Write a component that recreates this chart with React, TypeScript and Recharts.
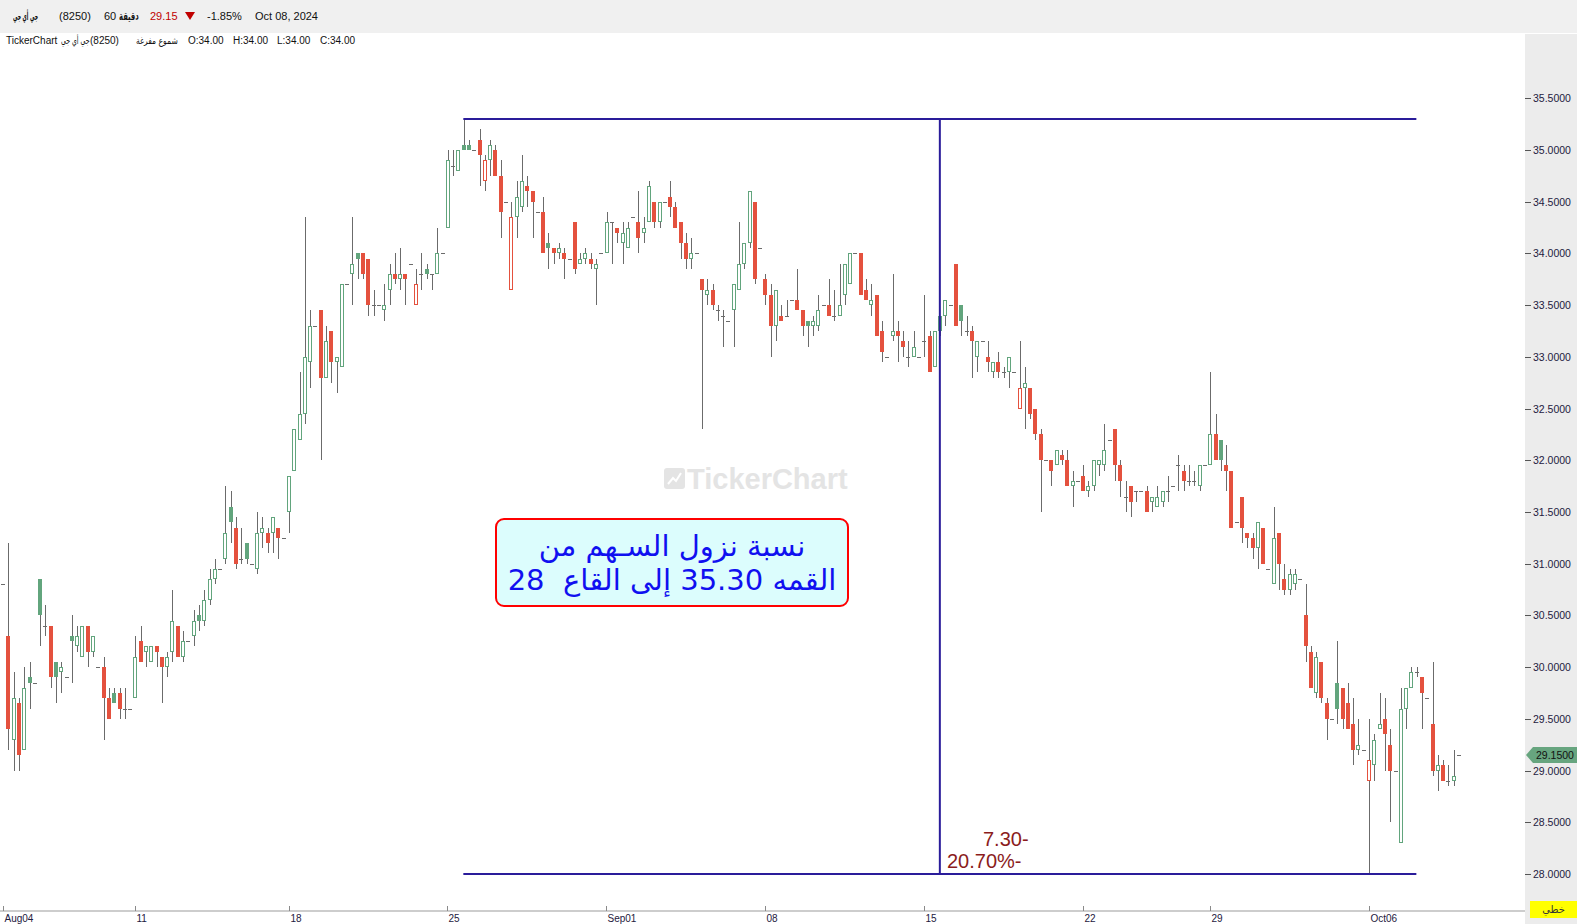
import React from 'react';
import { ComposedChart, Bar, XAxis, YAxis, ReferenceLine } from 'recharts';

// 60-minute candles, 8250 (جي أي جي), Aug 04 -> Oct 08 2024
const opens = [
  30.80, 30.30, 29.30, 29.65, 29.20, 29.90, 29.85, 30.85, 30.40, 30.40, 30.05, 29.95,
  29.90, 30.30, 30.20, 30.10, 30.40, 30.15, 30.00, 30.00, 29.70, 29.75, 29.75, 29.60,
  29.60, 29.70, 30.25, 30.15, 30.05, 30.20, 30.10, 30.00, 30.15, 30.40, 30.10, 30.25,
  30.30, 30.50, 30.45, 30.65, 30.85, 30.95, 31.05, 31.55, 31.35, 31.05, 31.20, 31.00,
  30.95, 31.30, 31.30, 31.30, 31.35, 31.25, 31.50, 31.90, 32.20, 32.45, 32.95, 33.30,
  33.45, 32.80, 33.25, 32.95, 32.90, 33.70, 33.80, 34.00, 34.00, 33.95, 33.50, 33.50,
  33.45, 33.65, 33.80, 33.75, 33.80, 33.90, 33.50, 33.80, 33.85, 33.80, 33.80, 34.00,
  34.25, 34.85, 34.80, 35.05, 35.05, 35.00, 35.10, 34.70, 34.90, 35.00, 34.75, 34.50,
  33.65, 34.35, 34.45, 34.65, 34.60, 34.40, 34.40, 34.10, 34.05, 34.00, 34.00, 33.95,
  34.30, 33.90, 33.95, 33.95, 33.85, 34.00, 34.00, 34.30, 34.25, 34.10, 34.05, 34.35,
  34.30, 34.20, 34.30, 34.50, 34.30, 34.50, 34.55, 34.45, 34.30, 34.10, 33.95, 34.00,
  33.75, 33.60, 33.65, 33.45, 33.40, 33.35, 33.45, 33.65, 33.90, 34.10, 34.50, 34.05,
  33.75, 33.60, 33.30, 33.40, 33.40, 33.55, 33.55, 33.45, 33.35, 33.30, 33.30, 33.50,
  33.50, 33.40, 33.40, 33.60, 33.70, 34.00, 34.00, 33.65, 33.50, 33.60, 33.25, 33.00,
  33.20, 33.25, 33.15, 33.00, 33.00, 33.00, 33.15, 33.20, 32.90, 33.40, 33.40, 33.50,
  33.90, 33.50, 33.25, 33.25, 33.00, 33.15, 33.00, 32.85, 32.95, 32.85, 32.85, 32.85,
  32.50, 32.70, 32.70, 32.50, 32.25, 32.00, 32.00, 31.95, 32.05, 32.00, 31.75, 31.80,
  31.85, 31.70, 31.75, 31.95, 31.95, 32.20, 32.30, 31.95, 31.65, 31.75, 31.70, 31.70,
  31.70, 31.60, 31.55, 31.60, 31.70, 31.75, 31.95, 31.90, 31.80, 31.80, 31.75, 31.95,
  31.95, 32.25, 32.20, 31.95, 31.90, 31.40, 31.65, 31.30, 31.25, 31.15, 31.35, 30.95,
  30.80, 31.30, 30.85, 30.75, 30.80, 30.85, 30.50, 30.15, 29.75, 30.05, 29.65, 29.50,
  29.85, 29.80, 29.65, 29.45, 29.20, 29.20, 28.90, 29.05, 29.40, 29.50, 29.25, 29.00,
  28.30, 29.60, 29.80, 29.95, 29.90, 29.70, 29.45, 29.00, 29.05, 28.90, 28.90, 29.15,
];
const highs = [
  30.80, 31.20, 29.95, 29.70, 30.00, 30.05, 29.85, 30.85, 30.60, 30.40, 30.05, 30.05,
  29.90, 30.50, 30.40, 30.40, 30.40, 30.30, 30.00, 30.10, 29.80, 29.80, 29.80, 29.80,
  29.60, 30.30, 30.40, 30.20, 30.20, 30.20, 30.10, 30.15, 30.75, 30.40, 30.35, 30.25,
  30.55, 30.60, 30.75, 30.95, 31.05, 30.95, 31.75, 31.70, 31.45, 31.35, 31.20, 31.00,
  31.50, 31.45, 31.35, 31.45, 31.35, 31.25, 31.85, 32.30, 32.85, 34.35, 33.45, 33.30,
  33.45, 33.30, 33.25, 33.00, 33.70, 33.70, 34.35, 34.00, 34.00, 33.95, 33.65, 33.50,
  33.70, 33.90, 34.00, 34.05, 33.80, 33.90, 33.85, 34.00, 33.90, 33.80, 34.25, 34.00,
  35.00, 35.00, 35.00, 35.30, 35.10, 35.00, 35.20, 34.95, 35.10, 35.05, 34.90, 34.50,
  34.50, 34.70, 34.95, 34.75, 34.60, 34.40, 34.55, 34.20, 34.05, 34.10, 34.05, 33.95,
  34.30, 34.00, 34.05, 34.00, 33.95, 34.00, 34.40, 34.30, 34.25, 34.30, 34.30, 34.35,
  34.60, 34.35, 34.70, 34.50, 34.50, 34.50, 34.70, 34.50, 34.30, 34.20, 34.15, 34.00,
  33.75, 33.75, 33.70, 33.50, 33.45, 33.35, 33.70, 34.30, 34.10, 34.60, 34.50, 34.05,
  33.80, 33.70, 33.65, 33.50, 33.55, 33.55, 33.85, 33.45, 33.35, 33.40, 33.60, 33.50,
  33.75, 33.65, 33.90, 33.90, 34.00, 34.00, 34.00, 33.75, 33.70, 33.60, 33.35, 33.00,
  33.80, 33.35, 33.25, 33.15, 33.25, 33.00, 33.60, 33.25, 33.25, 33.40, 33.55, 33.50,
  33.90, 33.50, 33.40, 33.30, 33.15, 33.15, 33.15, 32.95, 33.05, 32.90, 33.00, 32.85,
  33.15, 32.90, 32.70, 32.50, 32.30, 32.00, 32.00, 32.10, 32.10, 32.10, 31.90, 31.80,
  31.95, 31.80, 32.00, 32.00, 32.35, 32.20, 32.30, 32.00, 31.80, 31.75, 31.70, 31.70,
  31.75, 31.65, 31.75, 31.70, 31.85, 31.75, 32.05, 31.95, 31.95, 31.90, 31.95, 31.95,
  32.85, 32.45, 32.20, 32.15, 31.90, 31.40, 31.65, 31.30, 31.30, 31.40, 31.35, 30.95,
  31.55, 31.30, 31.00, 30.95, 30.95, 30.85, 30.80, 30.20, 30.15, 30.05, 29.70, 29.50,
  30.25, 29.80, 29.85, 29.70, 29.50, 29.20, 29.50, 29.35, 29.75, 29.70, 29.40, 29.00,
  29.80, 29.80, 30.00, 30.00, 29.90, 29.70, 30.05, 29.15, 29.10, 29.05, 29.20, 29.15,
];
const lows = [
  30.80, 29.20, 29.00, 29.00, 29.20, 29.60, 29.85, 30.20, 30.30, 29.80, 29.65, 29.75,
  29.90, 29.85, 30.15, 30.10, 30.00, 30.10, 30.00, 29.30, 29.50, 29.65, 29.50, 29.50,
  29.60, 29.70, 30.05, 30.00, 30.05, 30.00, 29.65, 29.90, 30.05, 30.10, 30.05, 30.25,
  30.20, 30.35, 30.40, 30.60, 30.80, 30.95, 31.00, 31.20, 30.95, 31.00, 31.00, 31.00,
  30.90, 31.15, 31.10, 31.10, 31.05, 31.25, 31.30, 31.90, 32.20, 32.35, 32.70, 33.30,
  32.00, 32.80, 32.75, 32.65, 32.90, 33.70, 33.50, 33.75, 33.75, 33.40, 33.40, 33.50,
  33.35, 33.50, 33.70, 33.65, 33.50, 33.90, 33.50, 33.65, 33.75, 33.65, 33.80, 34.00,
  34.25, 34.75, 34.80, 35.00, 35.00, 35.00, 34.65, 34.60, 34.75, 34.75, 34.15, 34.50,
  33.65, 34.15, 34.40, 34.45, 34.15, 34.40, 34.00, 33.85, 33.90, 33.95, 33.75, 33.95,
  33.80, 33.90, 33.90, 33.85, 33.50, 34.00, 34.00, 33.90, 34.10, 33.90, 34.05, 34.35,
  34.00, 34.10, 34.30, 34.25, 34.25, 34.50, 34.35, 34.25, 33.95, 33.85, 33.85, 34.00,
  32.30, 33.50, 33.45, 33.35, 33.10, 33.35, 33.10, 33.65, 33.85, 34.05, 33.70, 34.05,
  33.50, 33.00, 33.15, 33.35, 33.40, 33.55, 33.45, 33.20, 33.10, 33.20, 33.25, 33.50,
  33.40, 33.35, 33.40, 33.50, 33.70, 34.00, 33.60, 33.55, 33.40, 33.20, 32.95, 33.00,
  33.15, 32.95, 33.00, 32.90, 33.00, 33.00, 33.00, 32.85, 32.90, 33.20, 33.30, 33.50,
  33.30, 33.20, 33.20, 32.80, 32.85, 33.15, 32.85, 32.80, 32.80, 32.80, 32.70, 32.85,
  32.50, 32.30, 32.40, 32.20, 31.50, 32.00, 31.75, 31.95, 31.95, 31.75, 31.55, 31.80,
  31.70, 31.65, 31.70, 31.85, 31.90, 32.20, 31.80, 31.65, 31.50, 31.45, 31.60, 31.70,
  31.50, 31.50, 31.55, 31.55, 31.60, 31.75, 31.70, 31.70, 31.75, 31.75, 31.70, 31.95,
  31.95, 32.00, 31.90, 31.70, 31.35, 31.40, 31.20, 31.15, 31.05, 30.95, 31.00, 30.95,
  30.80, 30.75, 30.70, 30.70, 30.75, 30.85, 30.05, 29.80, 29.70, 29.65, 29.30, 29.50,
  29.45, 29.40, 29.40, 29.05, 29.15, 29.20, 28.00, 28.90, 29.40, 29.00, 28.50, 29.00,
  28.30, 29.40, 29.80, 29.90, 29.40, 29.70, 28.95, 28.80, 28.90, 28.85, 28.85, 29.15,
];
const closes = [
  30.80, 29.40, 29.70, 29.15, 29.80, 29.85, 29.85, 30.50, 30.40, 29.90, 29.90, 30.00,
  29.90, 30.25, 30.30, 30.40, 30.15, 30.30, 30.00, 29.70, 29.50, 29.65, 29.60, 29.60,
  29.60, 30.10, 30.05, 30.20, 30.20, 30.15, 30.00, 30.10, 30.45, 30.10, 30.25, 30.25,
  30.45, 30.45, 30.65, 30.85, 30.95, 30.95, 31.30, 31.40, 31.00, 31.05, 31.05, 31.00,
  31.30, 31.35, 31.20, 31.45, 31.25, 31.25, 31.85, 32.30, 32.45, 33.00, 33.30, 33.30,
  32.80, 33.15, 32.95, 33.00, 33.70, 33.70, 33.90, 33.95, 33.80, 33.50, 33.50, 33.50,
  33.50, 33.80, 33.75, 33.80, 33.75, 33.90, 33.70, 33.80, 33.80, 33.80, 34.00, 34.00,
  34.90, 34.85, 35.00, 35.00, 35.00, 35.00, 34.95, 34.90, 35.05, 34.75, 34.40, 34.50,
  34.35, 34.55, 34.70, 34.60, 34.50, 34.40, 34.00, 34.05, 34.00, 34.05, 33.95, 33.95,
  33.85, 33.95, 34.00, 33.90, 33.90, 34.00, 34.30, 34.30, 34.20, 34.20, 34.25, 34.35,
  34.15, 34.25, 34.65, 34.30, 34.50, 34.50, 34.45, 34.25, 34.10, 33.95, 34.00, 34.00,
  33.65, 33.65, 33.50, 33.45, 33.40, 33.35, 33.70, 33.90, 34.10, 34.60, 33.75, 34.05,
  33.60, 33.30, 33.65, 33.35, 33.40, 33.55, 33.45, 33.30, 33.30, 33.35, 33.45, 33.50,
  33.40, 33.40, 33.50, 33.90, 34.00, 34.00, 33.60, 33.55, 33.55, 33.20, 33.05, 33.00,
  33.25, 33.20, 33.10, 33.00, 33.10, 33.00, 33.15, 32.85, 33.25, 33.25, 33.55, 33.50,
  33.30, 33.35, 33.25, 33.15, 33.15, 33.15, 32.95, 32.95, 32.85, 32.85, 33.00, 32.85,
  32.70, 32.75, 32.45, 32.25, 32.00, 32.00, 31.90, 32.10, 32.00, 31.75, 31.80, 31.80,
  31.70, 31.75, 32.00, 32.00, 32.10, 32.20, 31.95, 31.80, 31.65, 31.60, 31.70, 31.70,
  31.50, 31.65, 31.65, 31.70, 31.70, 31.75, 31.95, 31.80, 31.80, 31.80, 31.95, 31.95,
  32.25, 32.00, 32.00, 31.90, 31.35, 31.40, 31.35, 31.25, 31.15, 31.40, 31.00, 30.95,
  31.25, 31.00, 30.75, 30.90, 30.90, 30.85, 30.20, 29.80, 30.10, 29.70, 29.50, 29.50,
  29.60, 29.50, 29.40, 29.20, 29.25, 29.20, 29.10, 29.30, 29.45, 29.35, 29.00, 29.00,
  29.60, 29.80, 29.95, 29.95, 29.75, 29.70, 29.00, 29.05, 28.90, 28.90, 28.95, 29.15,
];

const weekTicks = [0, 25, 54, 84, 114, 144, 174, 204, 228, 258];
const weekLabels = ['Aug04', '11', '18', '25', 'Sep01', '08', '15', '22', '29', 'Oct06'];
const priceTicks = [28, 28.5, 29, 29.5, 30, 30.5, 31, 31.5, 32, 32.5, 33, 33.5, 34, 34.5, 35, 35.5];

// drawing tool: drop from the top to the bottom
const peakPrice = 35.3;
const bottomPrice = 28.0;
const lastPrice = 29.15;
const peakIndex = 87;
const splitIndex = 177;
const lineEndIndex = 267;

const rows = opens.map((open, i) => ({
  i,
  open,
  high: highs[i],
  low: lows[i],
  close: closes[i],
  prevClose: i > 0 ? closes[i - 1] : open,
}));

const RED = '#e4513e';
const GREEN = '#62a57d';
const WICK = '#6b6b6b';
const DRAW = '#2a1c9a';
const AXIS_TEXT = '#1e2040';
const FONT = '"Liberation Sans", Arial, "DejaVu Sans", sans-serif';
const ARABIC = '"DejaVu Sans", sans-serif';

const Candle = (props: any) => {
  const { x, y, width, height, payload } = props;
  if (x == null || y == null || !payload) return null;
  const { open, high, low, close, prevClose } = payload;
  const left = Math.round(x + width / 2 - 2);
  const mid = left + 2.5;
  const k = high > low ? height / (high - low) : 0;
  const toY = (v: number) => y + (high - v) * k;
  const wick =
    height > 0 ? (
      <line x1={mid} x2={mid} y1={Math.round(y)} y2={Math.round(y + height)} stroke={WICK} strokeWidth={1} />
    ) : null;

  if (open === close) {
    const yy = Math.round(toY(open)) + 0.5;
    return (
      <g>
        {wick}
        <line x1={left} x2={left + 4} y1={yy} y2={yy} stroke={WICK} strokeWidth={1} />
      </g>
    );
  }

  const color = close >= prevClose ? GREEN : RED;
  const bTop = Math.round(toY(Math.max(open, close)));
  const bBot = Math.round(toY(Math.min(open, close)));
  const bh = Math.max(bBot - bTop, 1);
  const body =
    close > open ? (
      <rect x={left + 0.5} y={bTop + 0.5} width={3} height={Math.max(bh - 1, 0)} fill="#fff" stroke={color} strokeWidth={1} />
    ) : (
      <rect x={left} y={bTop} width={4} height={bh} fill={color} />
    );
  return (
    <g>
      {wick}
      {body}
    </g>
  );
};

const WeekTick = (props: any) => {
  const { x, y, payload } = props;
  const idx = weekTicks.indexOf(payload.value);
  const px = Math.round(x) + 0.5;
  return (
    <g>
      <line x1={px} x2={px} y1={y - 5} y2={y} stroke="#8a8a8a" />
      <text x={px + 1} y={y + 11} fontSize={10} fontFamily={FONT} fill={AXIS_TEXT}>
        {weekLabels[idx]}
      </text>
    </g>
  );
};

const PriceTick = (props: any) => {
  const { x, y, payload } = props;
  const py = Math.round(y) + 0.5;
  return (
    <g>
      <line x1={x} x2={x + 6} y1={py} y2={py} stroke="#555" />
      <text x={x + 8} y={py + 3.5} fontSize={10.5} fontFamily={FONT} fill={AXIS_TEXT}>
        {Number(payload.value).toFixed(4)}
      </text>
    </g>
  );
};

const LastPriceTag = (props: any) => {
  const { viewBox } = props;
  if (!viewBox) return null;
  const right = viewBox.x + viewBox.width;
  const yy = Math.round(viewBox.y);
  const pts = `${right + 1},${yy} ${right + 8},${yy - 8} ${right + 52},${yy - 8} ${right + 52},${yy + 8} ${right + 8},${yy + 8}`;
  return (
    <g>
      <polygon points={pts} fill="#67a57f" />
      <text x={right + 11} y={yy + 4} fontSize={10.5} fontFamily={FONT} fill="#111">
        {lastPrice.toFixed(4)}
      </text>
    </g>
  );
};

const Txt = ({ x, y, size, color = '#111', bold = false, family = FONT, sx = 1, children }: any) => (
  <div
    style={{
      position: 'absolute',
      left: x,
      top: y - size / 2,
      fontSize: size,
      lineHeight: `${size}px`,
      color,
      fontWeight: bold ? 700 : 400,
      fontFamily: family,
      whiteSpace: 'pre',
      transform: sx !== 1 ? `scaleX(${sx})` : undefined,
      transformOrigin: 'left center',
    }}
  >
    {children}
  </div>
);

export default function App() {
  return (
    <div style={{ position: 'absolute', left: 0, top: 0, width: 1577, height: 924, background: '#fff', overflow: 'hidden', fontFamily: FONT }}>
      {/* header strip */}
      <div style={{ position: 'absolute', left: 0, top: 0, width: 1577, height: 33, background: '#f0f0f0' }} />
      {/* price axis panel */}
      <div style={{ position: 'absolute', left: 1525, top: 34, width: 52, height: 890, background: '#ececec' }} />

      {/* watermark */}
      <svg style={{ position: 'absolute', left: 664, top: 468 }} width={22} height={22}>
        <rect x={0} y={0} width={21} height={21} rx={3} fill="#e4e4e4" />
        <polyline points="4,16 9,10 12,13 17,5" fill="none" stroke="#fff" strokeWidth={2} />
      </svg>
      <Txt x={687} y={479} size={29} bold color="#e4e4e4">TickerChart</Txt>

      <div style={{ position: 'absolute', left: 0, top: 0 }}>
        <ComposedChart width={1577} height={924} data={rows} margin={{ top: 48, right: 0, bottom: 0, left: 0 }}>
          <XAxis
            dataKey="i"
            type="number"
            domain={[-0.51, 287.52]}
            allowDataOverflow
            ticks={weekTicks}
            interval={0}
            height={13}
            tickLine={false}
            tickSize={0}
            tickMargin={0}
            axisLine={{ stroke: '#9b9b9b' }}
            tick={<WeekTick />}
          />
          <YAxis
            orientation="right"
            type="number"
            domain={[27.6422, 35.9867]}
            allowDataOverflow
            ticks={priceTicks}
            interval={0}
            width={52}
            axisLine={false}
            tickLine={false}
            tickSize={0}
            tickMargin={0}
            tick={<PriceTick />}
          />
          <Bar
            dataKey={(d: any) => [d.low, d.high]}
            barSize={4}
            shape={(p: any) => <Candle {...p} />}
            isAnimationActive={false}
          />
          <ReferenceLine
            segment={[{ x: peakIndex, y: peakPrice }, { x: lineEndIndex, y: peakPrice }]}
            stroke={DRAW}
            strokeWidth={2}
            ifOverflow="visible"
          />
          <ReferenceLine
            segment={[{ x: peakIndex, y: bottomPrice }, { x: lineEndIndex, y: bottomPrice }]}
            stroke={DRAW}
            strokeWidth={2}
            ifOverflow="visible"
          />
          <ReferenceLine
            segment={[{ x: splitIndex, y: peakPrice }, { x: splitIndex, y: bottomPrice }]}
            stroke={DRAW}
            strokeWidth={2}
            ifOverflow="visible"
          />
          <ReferenceLine y={lastPrice} stroke="none" ifOverflow="visible" label={<LastPriceTag />} />
        </ComposedChart>
      </div>

      {/* header line 1 */}
      <Txt x={13} y={16} size={11} bold family={ARABIC} sx={0.42}>جي أي جي</Txt>
      <Txt x={59} y={16} size={11}>(8250)</Txt>
      <Txt x={104} y={16} size={11}>60</Txt>
      <Txt x={119} y={16} size={11} bold family={ARABIC} sx={0.62}>دقيقة</Txt>
      <Txt x={150} y={16} size={11} color="#c00000">29.15</Txt>
      <svg style={{ position: 'absolute', left: 185, top: 12 }} width={11} height={9}>
        <polygon points="0,0 10,0 5,8" fill="#c00000" />
      </svg>
      <Txt x={207} y={16} size={11}>-1.85%</Txt>
      <Txt x={255} y={16} size={11}>Oct 08, 2024</Txt>

      {/* header line 2 */}
      <Txt x={6} y={41} size={10}>TickerChart</Txt>
      <Txt x={61} y={41} size={10} family={ARABIC} sx={0.62}>جي أي جي</Txt>
      <Txt x={90} y={41} size={10}>(8250)</Txt>
      <Txt x={136} y={41} size={10} family={ARABIC} sx={0.76}>شموع مفرغة</Txt>
      <Txt x={188} y={41} size={10}>O:34.00</Txt>
      <Txt x={233} y={41} size={10}>H:34.00</Txt>
      <Txt x={277} y={41} size={10}>L:34.00</Txt>
      <Txt x={320} y={41} size={10}>C:34.00</Txt>

      {/* annotation box */}
      <div
        style={{
          position: 'absolute',
          left: 495,
          top: 518,
          width: 354,
          height: 89,
          boxSizing: 'border-box',
          border: '2px solid #ff0000',
          borderRadius: 9,
          background: '#dcfdfd',
          display: 'flex',
          flexDirection: 'column',
          justifyContent: 'center',
          alignItems: 'center',
          color: '#1010f0',
          fontFamily: ARABIC,
          fontSize: 29,
          lineHeight: '34px',
          direction: 'rtl',
          whiteSpace: 'pre',
        }}
      >
        <div>نسبة نزول السـهم من</div>
        <div>القمه 35.30 إلى القاع  28</div>
      </div>

      {/* drop measurement */}
      <Txt x={983} y={839} size={20} color="#8b1c1c">7.30-</Txt>
      <Txt x={947} y={861} size={20} color="#8b1c1c">20.70%-</Txt>

      {/* chart type badge */}
      <div
        style={{
          position: 'absolute',
          left: 1530,
          top: 901,
          width: 47,
          height: 17,
          background: '#ffff00',
          fontFamily: ARABIC,
          fontSize: 10,
          lineHeight: '17px',
          textAlign: 'center',
          color: '#333',
        }}
      >
        خطي
      </div>
    </div>
  );
}
